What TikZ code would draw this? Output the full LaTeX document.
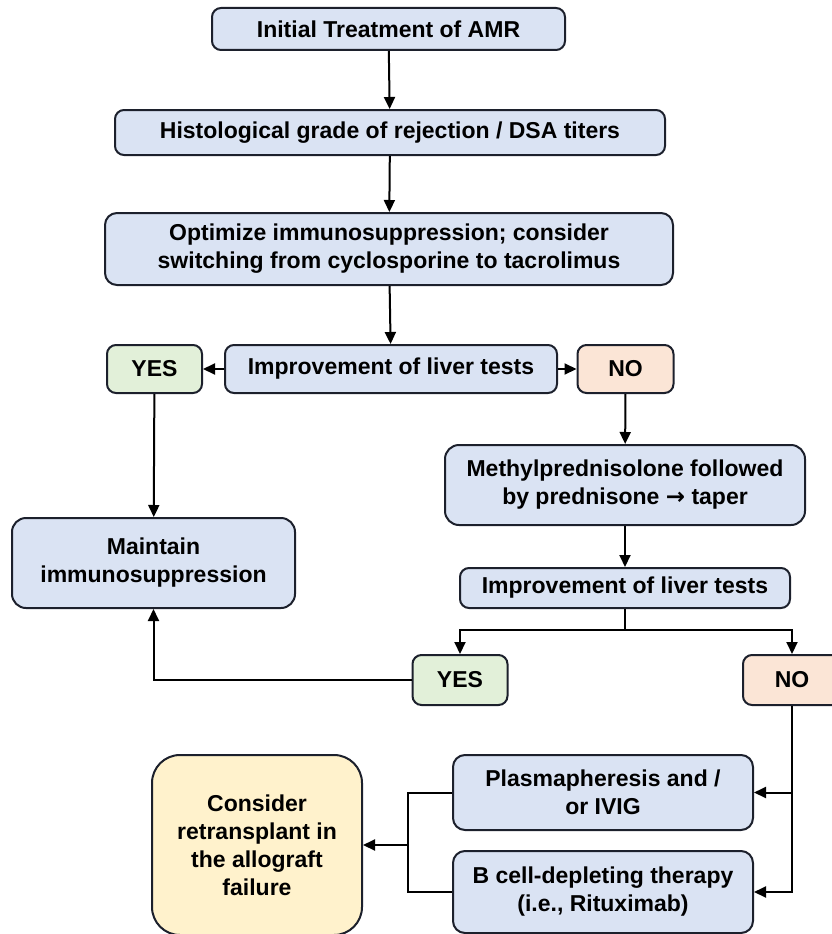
\documentclass[tikz,border=0pt]{standalone}
\usepackage{fontspec}
\setmainfont{Liberation Sans}
\newfontfamily\symfont{DejaVu Sans}
\usetikzlibrary{arrows.meta,positioning}
\definecolor{boxblue}{RGB}{218,227,243}
\definecolor{boxgreen}{RGB}{226,240,217}
\definecolor{boxorange}{RGB}{251,229,214}
\definecolor{boxyellow}{RGB}{255,242,204}
\definecolor{edge}{RGB}{28,32,44}

\begin{document}
\begin{tikzpicture}[x=1pt, y=-1pt, line width=2pt,
  font=\fontsize{23}{28}\selectfont\bfseries,
  box/.style={draw=edge, fill=boxblue, rounded corners=9pt, align=center, inner sep=0pt},
  yesbox/.style={box, fill=boxgreen, minimum width=95pt, minimum height=48pt},
  nobox/.style={box, fill=boxorange, minimum width=96pt, minimum height=48pt},
  flow/.style={-{Triangle[length=12pt, width=11pt]}, draw=black}]
  % picture area, measured in pixels of the reference
  \useasboundingbox (0,0) rectangle (831,934);

  % main column
  \node[box, minimum width=353pt, minimum height=42pt] (init) at (388.5,29) {Initial Treatment of AMR};
  \node[box, minimum width=550pt, minimum height=45pt] (grade) at (390,132.5) {Histological grade of rejection / DSA titers};
  \node[box, minimum width=568pt, minimum height=72pt, rounded corners=12pt] (optim) at (389,249)
    {Optimize immunosuppression; consider\\switching from cyclosporine to tacrolimus};
  \node[box, minimum width=332pt, minimum height=48pt] (livera) at (391,369) {Improvement of liver tests};
  \node[yesbox] (yesa) at (154.5,369) {YES};
  \node[nobox] (noa) at (625.5,369) {NO};

  % left branch
  \node[box, minimum width=283pt, minimum height=90pt, rounded corners=14pt] (maint) at (153.5,563)
    {Maintain\\immunosuppression};

  % right branch
  \node[box, minimum width=360pt, minimum height=80pt, rounded corners=14pt] (methyl) at (625,485)
    {Methylprednisolone followed\\by prednisone {\symfont\bfseries →} taper};
  \node[box, minimum width=330pt, minimum height=40pt] (liverb) at (625,588) {Improvement of liver tests};
  \node[yesbox, minimum height=50pt] (yesb) at (460,680) {YES};
  \node[nobox, minimum height=50pt, minimum width=98pt] (nob) at (792,680) {NO};

  % rescue therapies
  \node[box, minimum width=300pt, minimum height=75pt, rounded corners=12pt] (plasma) at (603,792.5)
    {Plasmapheresis and /\\or IVIG};
  \node[box, minimum width=300pt, minimum height=82pt, rounded corners=12pt] (bcell) at (603,892)
    {B cell-depleting therapy\\(i.e., Rituximab)};
  \node[box, fill=boxyellow, minimum width=210pt, minimum height=180pt, rounded corners=28pt] (retx) at (257,845)
    {Consider\\retransplant in\\the allograft\\failure};

  \coordinate (split) at (625,630);
  \coordinate (join) at (408,845);

  % connectors
  \draw[flow] (init) -- (grade);
  \draw[flow] (grade) -- (optim);
  \draw[flow] (optim) -- (livera);
  \draw[flow] (livera) -- (yesa);
  \draw[flow] (livera) -- (noa);
  \draw[flow] (yesa) -- (maint);
  \draw[flow] (noa) -- (methyl);
  \draw[flow] (methyl) -- (liverb);
  \draw (liverb.south) -- (split);
  \draw[flow] (split) -| (yesb.north);
  \draw[flow] (split) -| (nob.north);
  \draw[flow] (yesb.west) -| (maint.south);
  \draw[flow] (nob.south) |- (bcell.east);
  \draw[flow] (nob.south |- plasma.east) -- (plasma.east);
  \draw (plasma.west) -| (join);
  \draw (bcell.west) -| (join);
  \draw[flow] (join) -- (retx.east);
\end{tikzpicture}
\end{document}
